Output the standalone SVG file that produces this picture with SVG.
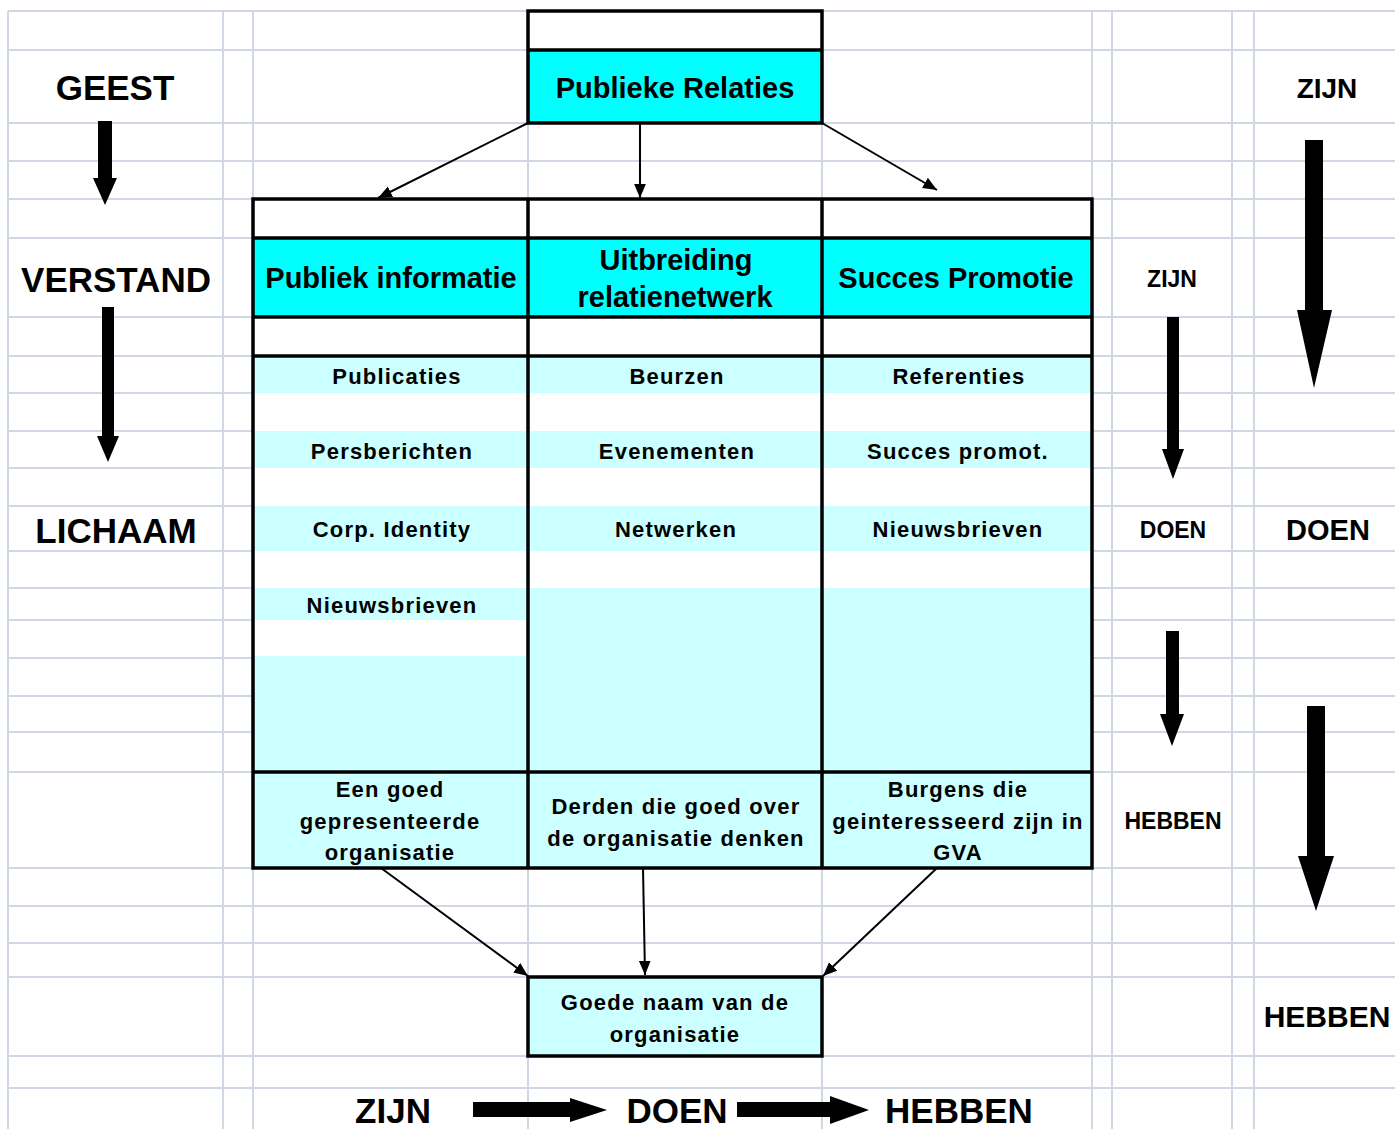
<svg xmlns="http://www.w3.org/2000/svg" width="1395" height="1129" viewBox="0 0 1395 1129">
<style>
.grid line{stroke:#D0D7E5;stroke-width:2}
.box{stroke:#000;stroke-width:3.5;fill:none}
.t{font-family:"Liberation Sans",Arial,sans-serif;font-weight:bold;fill:#000;text-anchor:middle}
.big{font-size:35px}
.hd{font-size:29px}
.md{font-size:28px}
.sm{font-size:23px}
.it{font-size:22px;letter-spacing:1.2px}
.conn{stroke:#000;stroke-width:2;fill:none;marker-end:url(#ah)}
.fat{fill:#000}
</style>
<defs>
<marker id="ah" viewBox="0 0 10 10" refX="10" refY="5" markerWidth="14" markerHeight="14" markerUnits="userSpaceOnUse" orient="auto">
<path d="M0,0.8 L10,5 L0,9.2 z" fill="#000"/>
</marker>
</defs>
<rect width="1395" height="1129" fill="#fff"/>
<g class="grid">
<line x1="8" y1="11" x2="1395" y2="11"/>
<line x1="8" y1="50" x2="1395" y2="50"/>
<line x1="8" y1="123" x2="1395" y2="123"/>
<line x1="8" y1="161" x2="1395" y2="161"/>
<line x1="8" y1="199" x2="1395" y2="199"/>
<line x1="8" y1="238" x2="1395" y2="238"/>
<line x1="8" y1="317" x2="1395" y2="317"/>
<line x1="8" y1="356" x2="1395" y2="356"/>
<line x1="8" y1="393" x2="1395" y2="393"/>
<line x1="8" y1="431" x2="1395" y2="431"/>
<line x1="8" y1="468" x2="1395" y2="468"/>
<line x1="8" y1="506" x2="1395" y2="506"/>
<line x1="8" y1="551" x2="1395" y2="551"/>
<line x1="8" y1="588" x2="1395" y2="588"/>
<line x1="8" y1="620" x2="1395" y2="620"/>
<line x1="8" y1="658" x2="1395" y2="658"/>
<line x1="8" y1="696" x2="1395" y2="696"/>
<line x1="8" y1="732" x2="1395" y2="732"/>
<line x1="8" y1="772" x2="1395" y2="772"/>
<line x1="8" y1="868" x2="1395" y2="868"/>
<line x1="8" y1="906" x2="1395" y2="906"/>
<line x1="8" y1="943" x2="1395" y2="943"/>
<line x1="8" y1="977" x2="1395" y2="977"/>
<line x1="8" y1="1056" x2="1395" y2="1056"/>
<line x1="8" y1="1088" x2="1395" y2="1088"/>
<line x1="8" y1="11" x2="8" y2="1129"/>
<line x1="223" y1="11" x2="223" y2="1129"/>
<line x1="253" y1="11" x2="253" y2="1129"/>
<line x1="528" y1="11" x2="528" y2="1129"/>
<line x1="822" y1="11" x2="822" y2="1129"/>
<line x1="1092" y1="11" x2="1092" y2="1129"/>
<line x1="1112" y1="11" x2="1112" y2="1129"/>
<line x1="1232" y1="11" x2="1232" y2="1129"/>
<line x1="1254" y1="11" x2="1254" y2="1129"/>
</g>

<g id="labels-left">
<text class="t big" x="115" y="100">GEEST</text>
<text class="t big" x="116" y="292">VERSTAND</text>
<text class="t big" x="116" y="543">LICHAAM</text>
</g>

<g id="node-publieke-relaties">
<rect x="528" y="11" width="294" height="39" fill="#fff"/>
<rect x="528" y="50" width="294" height="73" fill="#00FFFF"/>
<rect class="box" x="528" y="11" width="294" height="112"/>
<line x1="528" y1="50" x2="822" y2="50" stroke="#000" stroke-width="3.5"/>
<text class="t hd" x="675" y="98">Publieke Relaties</text>
</g>

<g id="node-table">
<rect x="253" y="199" width="839" height="669" fill="#fff"/>
<rect x="253" y="238" width="839" height="79" fill="#00FFFF"/>
<rect x="253" y="356" width="839" height="512" fill="#CCFFFF"/>
<rect x="253" y="393" width="839" height="38" fill="#fff"/>
<rect x="253" y="468" width="839" height="38" fill="#fff"/>
<rect x="253" y="551" width="839" height="37" fill="#fff"/>
<rect x="253" y="620" width="275" height="36" fill="#fff"/>
<rect class="box" x="253" y="199" width="839" height="669"/>
<g stroke="#000" stroke-width="3.5">
<line x1="528" y1="199" x2="528" y2="868"/>
<line x1="822" y1="199" x2="822" y2="868"/>
<line x1="253" y1="238" x2="1092" y2="238"/>
<line x1="253" y1="317" x2="1092" y2="317"/>
<line x1="253" y1="356" x2="1092" y2="356"/>
<line x1="253" y1="772" x2="1092" y2="772"/>
</g>
</g>

<g id="node-publiek-informatie">
<text class="t hd" x="391" y="288">Publiek informatie</text>
<text class="t it" x="397" y="384">Publicaties</text>
<text class="t it" x="392" y="459">Persberichten</text>
<text class="t it" x="392" y="537">Corp. Identity</text>
<text class="t it" x="392" y="613">Nieuwsbrieven</text>
<text class="t it" x="390" y="797">Een goed</text>
<text class="t it" x="390" y="829">gepresenteerde</text>
<text class="t it" x="390" y="860">organisatie</text>
</g>

<g id="node-uitbreiding">
<text class="t hd" x="676" y="270">Uitbreiding</text>
<text class="t hd" x="675" y="307">relatienetwerk</text>
<text class="t it" x="677" y="384">Beurzen</text>
<text class="t it" x="677" y="459">Evenementen</text>
<text class="t it" x="676" y="537">Netwerken</text>
<text class="t it" x="676" y="814">Derden die goed over</text>
<text class="t it" x="676" y="846">de organisatie denken</text>
</g>

<g id="node-succes-promotie">
<text class="t hd" x="956" y="288">Succes Promotie</text>
<text class="t it" x="959" y="384">Referenties</text>
<text class="t it" x="958" y="459">Succes promot.</text>
<text class="t it" x="958" y="537">Nieuwsbrieven</text>
<text class="t it" x="958" y="797">Burgens die</text>
<text class="t it" x="958" y="829">geinteresseerd zijn in</text>
<text class="t it" x="958" y="860">GVA</text>
</g>

<g id="node-goede-naam">
<rect x="528" y="977" width="294" height="79" fill="#CCFFFF"/>
<rect class="box" x="528" y="977" width="294" height="79"/>
<text class="t it" x="675" y="1010">Goede naam van de</text>
<text class="t it" x="675" y="1042">organisatie</text>
</g>

<g id="labels-right">
<text class="t md" x="1327" y="98">ZIJN</text>
<text class="t sm" x="1172" y="287">ZIJN</text>
<text class="t sm" x="1173" y="538">DOEN</text>
<text class="t sm" x="1173" y="829">HEBBEN</text>
<text class="t md" x="1328" y="540" style="font-size:29px">DOEN</text>
<text class="t md" x="1327" y="1027" style="font-size:30px">HEBBEN</text>
</g>

<g id="labels-bottom">
<text class="t big" x="393" y="1123">ZIJN</text>
<text class="t big" x="677" y="1123">DOEN</text>
<text class="t big" x="959" y="1123">HEBBEN</text>
</g>

<g id="connectors">
<line class="conn" x1="528" y1="123" x2="378" y2="198"/>
<line class="conn" x1="640" y1="123" x2="640" y2="198"/>
<line class="conn" x1="822" y1="123" x2="937" y2="190"/>
<line class="conn" x1="381" y1="868" x2="528" y2="976"/>
<line class="conn" x1="643" y1="868" x2="645" y2="975"/>
<line class="conn" x1="937" y1="868" x2="823" y2="976"/>
</g>

<g id="fat-arrows" class="fat">
<path d="M98,121 H112 V178 H117 L105,205 L93,178 H98 Z"/>
<path d="M102,307 H114 V436 H119 L108,462 L97,436 H102 Z"/>
<path d="M1305,140 H1323 V310 H1332 L1314,388 L1297,310 H1305 Z"/>
<path d="M1167,317 H1179 V449 H1184 L1173,479 L1162,449 H1167 Z"/>
<path d="M1166,631 H1179 V714 H1184 L1172,746 L1160,714 H1166 Z"/>
<path d="M1307,706 H1325 V856 H1334 L1316,911 L1298,856 H1307 Z"/>
<path d="M473,1102 H570 V1098 L607,1110 L570,1122 V1117 H473 Z"/>
<path d="M737,1102 H830 V1096 L869,1110 L830,1124 V1117 H737 Z"/>
</g>
</svg>
